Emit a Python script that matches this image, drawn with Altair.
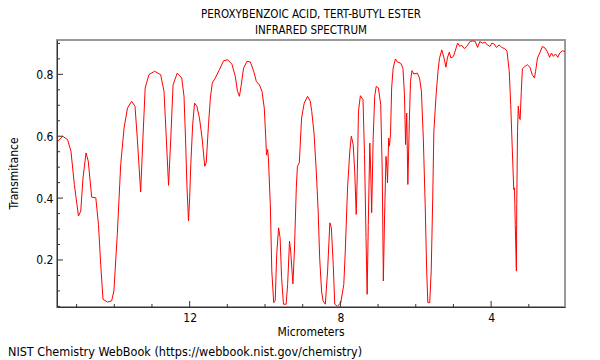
import altair as alt
import pandas as pd

# Spectrum (micrometers, transmittance)
um = [15.51, 15.37, 15.24, 15.15, 15.06, 14.95, 14.89, 14.83, 14.75, 14.69,
      14.60, 14.49, 14.42, 14.36, 14.30, 14.18, 14.07, 14.01, 13.92, 13.83,
      13.74, 13.65, 13.54, 13.45, 13.39, 13.30, 13.24, 13.18, 13.08, 12.93,
      12.77, 12.68, 12.62, 12.56, 12.50, 12.44, 12.33, 12.21, 12.15, 12.11,
      12.07, 12.03, 12.00, 11.97, 11.92, 11.87, 11.81, 11.74, 11.67, 11.60,
      11.56, 11.50, 11.45, 11.40, 11.32, 11.21, 11.10, 10.99, 10.88, 10.79,
      10.73, 10.68, 10.63, 10.57, 10.48, 10.39, 10.30, 10.23, 10.15, 10.08,
      10.02, 9.98, 9.96, 9.93, 9.91, 9.86, 9.82, 9.77, 9.73, 9.69,
      9.64, 9.60, 9.56, 9.51, 9.44, 9.40, 9.35, 9.32, 9.26, 9.22,
      9.17, 9.14, 9.09, 9.03, 8.96, 8.87, 8.80, 8.76, 8.70, 8.64,
      8.59, 8.55, 8.50, 8.46, 8.40, 8.34, 8.28, 8.24, 8.19, 8.15,
      8.08, 7.99, 7.91, 7.87, 7.81, 7.75, 7.71, 7.66, 7.62, 7.58,
      7.55, 7.52, 7.47, 7.40, 7.36, 7.32, 7.29, 7.26, 7.22, 7.20,
      7.17, 7.13, 7.09, 7.05, 6.99, 6.93, 6.89, 6.86, 6.83, 6.79,
      6.76, 6.75, 6.72, 6.70, 6.67, 6.64, 6.60, 6.54, 6.49, 6.40,
      6.34, 6.30, 6.27, 6.24, 6.21, 6.17, 6.14, 6.10, 6.05, 5.96,
      5.90, 5.85, 5.80, 5.75, 5.71, 5.68, 5.63, 5.59, 5.55, 5.52,
      5.46, 5.41, 5.37, 5.31, 5.25, 5.20, 5.16, 5.11, 5.07, 5.00,
      4.93, 4.89, 4.83, 4.79, 4.71, 4.65, 4.56, 4.49, 4.42, 4.36,
      4.30, 4.23, 4.16, 4.10, 4.03, 3.98, 3.92, 3.86, 3.79, 3.72,
      3.64, 3.58, 3.52, 3.48, 3.44, 3.40, 3.38, 3.36, 3.33, 3.32,
      3.30, 3.28, 3.25, 3.23, 3.20, 3.17, 3.10, 3.04, 2.97, 2.91,
      2.85, 2.82, 2.77, 2.71, 2.64, 2.57, 2.51, 2.45, 2.40, 2.35,
      2.29, 2.23, 2.18, 2.11, 2.04]
trans = [0.582, 0.600, 0.589, 0.552, 0.444, 0.342, 0.358, 0.465, 0.546, 0.519,
         0.403, 0.401, 0.315, 0.186, 0.073, 0.064, 0.068, 0.100, 0.283, 0.508,
         0.627, 0.691, 0.713, 0.697, 0.594, 0.420, 0.594, 0.756, 0.799, 0.810,
         0.799, 0.745, 0.594, 0.441, 0.594, 0.766, 0.804, 0.788, 0.729, 0.594,
         0.433, 0.326, 0.401, 0.508, 0.637, 0.707, 0.697, 0.659, 0.594, 0.503,
         0.514, 0.637, 0.724, 0.772, 0.788, 0.815, 0.844, 0.847, 0.833, 0.794,
         0.745, 0.729, 0.766, 0.820, 0.842, 0.840, 0.810, 0.777, 0.766, 0.745,
         0.691, 0.594, 0.539, 0.557, 0.530, 0.379, 0.164, 0.062, 0.068, 0.218,
         0.304, 0.272, 0.143, 0.057, 0.057, 0.121, 0.261, 0.229, 0.123, 0.229,
         0.433, 0.503, 0.514, 0.659, 0.707, 0.729, 0.713, 0.680, 0.610, 0.487,
         0.358, 0.207, 0.100, 0.068, 0.057, 0.164, 0.320, 0.304, 0.186, 0.057,
         0.050, 0.062, 0.121, 0.229, 0.433, 0.552, 0.600, 0.573, 0.487, 0.347,
         0.487, 0.681, 0.731, 0.718, 0.541, 0.272, 0.089, 0.315, 0.578, 0.508,
         0.353, 0.594, 0.729, 0.761, 0.756, 0.702, 0.487, 0.132, 0.326, 0.535,
         0.487, 0.449, 0.594, 0.568, 0.605, 0.756, 0.820, 0.850, 0.840, 0.836,
         0.820, 0.734, 0.573, 0.675, 0.444, 0.648, 0.777, 0.812, 0.801, 0.804,
         0.788, 0.745, 0.594, 0.379, 0.164, 0.062, 0.062, 0.164, 0.401, 0.616,
         0.734, 0.810, 0.852, 0.879, 0.853, 0.823, 0.853, 0.872, 0.853, 0.858,
         0.885, 0.901, 0.890, 0.895, 0.883, 0.890, 0.906, 0.908, 0.906, 0.887,
         0.906, 0.901, 0.904, 0.895, 0.890, 0.901, 0.898, 0.887, 0.895, 0.887,
         0.883, 0.876, 0.810, 0.702, 0.562, 0.428, 0.433, 0.315, 0.164, 0.379,
         0.616, 0.697, 0.659, 0.654, 0.745, 0.818, 0.826, 0.831, 0.823, 0.799,
         0.788, 0.810, 0.853, 0.869, 0.890, 0.885, 0.874, 0.855, 0.869, 0.858,
         0.866, 0.855, 0.869, 0.876, 0.874]

x_major = [12, 8, 4]
x_minor = [15, 14, 13, 11, 10, 9, 7, 6, 5, 3]
y_major = [0.2, 0.4, 0.6, 0.8]
y_minor = [0.05, 0.1, 0.15, 0.25, 0.3, 0.35, 0.45, 0.5, 0.55, 0.65, 0.7, 0.75, 0.85, 0.9]

title_lines = ["PEROXYBENZOIC ACID, TERT-BUTYL ESTER", "INFRARED SPECTRUM"]
x_title = "Micrometers"
y_title = "Transmitance"
footnote = "NIST Chemistry WebBook (https://webbook.nist.gov/chemistry)"

W, H = 508, 267
FONT = "DejaVu Sans Condensed, DejaVu Sans"
AX = "#333333"

xs = alt.Scale(domain=[2.04, 15.52], reverse=True, nice=False, zero=False)
ys = alt.Scale(domain=[0.048, 0.911], nice=False, zero=False)

df = pd.DataFrame({"um": um, "T": trans})

line = alt.Chart(df).mark_line(color="#ff0000", strokeWidth=1, clip=True).encode(
    x=alt.X("um:Q", scale=xs,
            axis=alt.Axis(values=x_major, title=None, ticks=False, grid=False,
                          labelPadding=5, labelFontSize=12, labelFont=FONT,
                          labelColor="#000", domainColor=AX, format="d")),
    y=alt.Y("T:Q", scale=ys,
            axis=alt.Axis(values=y_major, title=None, ticks=False, grid=False,
                          labelPadding=4, labelFontSize=12, labelFont=FONT,
                          labelColor="#000", domainColor=AX, format=".1f")),
)

def yticks(vals, size):
    return alt.Chart(pd.DataFrame({"v": vals})).mark_rule(color=AX, strokeWidth=1).encode(
        y=alt.Y("v:Q", scale=ys), x=alt.value(0), x2=alt.value(size))

def xticks(vals, size):
    return alt.Chart(pd.DataFrame({"v": vals})).mark_rule(color=AX, strokeWidth=1).encode(
        x=alt.X("v:Q", scale=xs), y=alt.value(H), y2=alt.value(H - size))

def label(text, x, y, size=12, **kw):
    return alt.Chart(alt.Data(values=[{}])).mark_text(
        font=FONT, fontSize=size, color="#000", **kw).encode(
        x=alt.value(x), y=alt.value(y), text=alt.value(text))

chart = alt.layer(
    line,
    yticks(y_major, 6), yticks(y_minor, 3),
    xticks(x_major, 6), xticks(x_minor, 3),
    label(title_lines[0], W / 2, -25, size=11.5, baseline="middle", align="center"),
    label(title_lines[1], W / 2, -9, size=11.5, baseline="middle", align="center"),
    label(x_title, W / 2, H + 25, baseline="middle", align="center"),
    label(y_title, -43, H / 2, baseline="middle", align="center", angle=270),
    label(footnote, -49, H + 45, size=12.5, baseline="middle", align="left"),
).properties(
    width=W, height=H,
    autosize=alt.AutoSizeParams(type="none"),
    padding={"left": 49, "top": 32, "right": 27, "bottom": 53},
).configure_view(stroke="#999999", strokeWidth=2)

chart.save("out.html", embed_options={"renderer": "svg", "actions": False})
